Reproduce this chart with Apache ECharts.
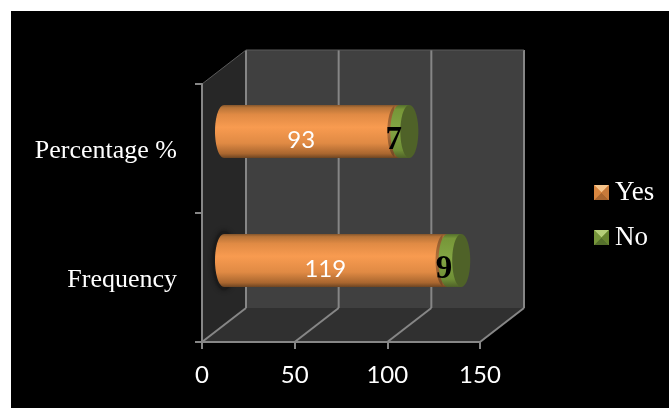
<!DOCTYPE html>
<html><head><meta charset="utf-8">
<style>html,body{margin:0;padding:0;background:#fff}#c{width:669px;height:408px}</style>
<script src="https://cdn.jsdelivr.net/npm/echarts@6/dist/echarts.min.js"></script>
</head><body><div id="c"></div>
<script>
const categories = ['Frequency', 'Percentage %'];
const yesValues = [119, 93];
const noValues = [9, 7];
const xTicks = [0, 50, 100, 150];
const seriesNames = ['Yes', 'No'];

const DX = 44, DY = -34;       // depth of the 3D box
const BX = 22, BY = -17;       // bars sit half way back
const RX = 9;
const GRID = '#868686';

function vgrad(stops) {
  return {type:'linear',x:0,y:0,x2:0,y2:1,colorStops:stops.map(s=>({offset:s[0],color:s[1]}))};
}
const orange = vgrad([[0,'#85562c'],[0.05,'#b87438'],[0.18,'#e08a44'],[0.42,'#f89b50'],[0.72,'#e08a44'],[0.92,'#a9662f'],[1,'#6e4522']]);
const orangeEdge = vgrad([[0,'#85562c'],[0.5,'#b4703a'],[1,'#6e4522']]);
const green = vgrad([[0,'#55702c'],[0.08,'#769638'],[0.45,'#83a544'],[0.85,'#6f8f36'],[1,'#4f6228']]);

function bev(c1,c2,c3,c4,c5){
  const svg = `<svg xmlns="http://www.w3.org/2000/svg" width="15" height="15"><rect width="15" height="15" fill="${c1}"/><polygon points="0,0 15,0 7.5,7.5" fill="${c2}"/><polygon points="0,15 15,15 7.5,7.5" fill="${c3}"/><polygon points="0,0 0,15 7.5,7.5" fill="${c4}"/><polygon points="15,0 15,15 7.5,7.5" fill="${c5}"/></svg>`;
  return 'image://data:image/svg+xml;charset=utf-8,' + encodeURIComponent(svg);
}

function renderBox(params, api) {
  const p00 = api.coord([0, 0]);
  const x0 = api.coord([0, 0])[0], x1 = api.coord([150, 0])[0];
  const band = api.size([0, 1])[1];
  const yb = p00[1] + band/2, yt = yb - 2*band;
  const ch = [];
  const line = (a,b,c,d,w,col)=>({type:'line',shape:{x1:a,y1:b,x2:c,y2:d},style:{stroke:col||GRID,lineWidth:w||1.5}});
  ch.push({type:'rect',shape:{x:x0+DX,y:yt+DY,width:x1-x0,height:yb-yt},style:{fill:'#404040'}});
  ch.push({type:'polygon',shape:{points:[[x0,yt],[x0+DX,yt+DY],[x0+DX,yb+DY],[x0,yb]]},style:{fill:'#272727'}});
  ch.push({type:'polygon',shape:{points:[[x0,yb],[x0+DX,yb+DY],[x1+DX,yb+DY],[x1,yb]]},style:{fill:'#303030'}});
  xTicks.forEach(t=>{
    const x = api.coord([t,0])[0];
    ch.push(line(x+DX,yt+DY,x+DX,yb+DY,2));
    ch.push(line(x,yb,x+DX,yb+DY,2));
  });
  ch.push(line(x0,yt,x0+DX,yt+DY,1,'#5a5a5a'));
  ch.push(line(x0+DX,yt+DY,x1+DX,yt+DY,1,'#5a5a5a'));
  return {type:'group',children:ch};
}

function renderYes(params, api) {
  const v = api.value(0), c = api.value(1);
  const a = api.coord([0,c]), b = api.coord([v,c]);
  const h = api.size([0,1])[1]*0.41, cy = a[1]+BY, ax = a[0]+BX, bx = b[0]+BX;
  const ry = h/2;
  const parts = [];
  if (params.dataIndex === 0) {
    parts.push({type:'ellipse',shape:{cx:ax,cy,rx:RX+2,ry:ry+3},style:{fill:'#1b1b1b',shadowBlur:5,shadowColor:'#111'}});
  }
  parts.push(
    {type:'ellipse',shape:{cx:ax,cy,rx:RX,ry},style:{fill:orange}},
    {type:'rect',shape:{x:ax,y:cy-ry,width:bx-ax,height:h},style:{fill:orange}},
    {type:'ellipse',shape:{cx:bx,cy,rx:RX,ry},style:{fill:orangeEdge}},
    {type:'rect',shape:{x:bx-2,y:cy-ry,width:5,height:h},style:{fill:orange}},
    {type:'text',x:api.coord([v/2,c])[0]+13,y:cy+9,style:{text:String(v),fill:'#fff',font:'24px Lato',align:'center',verticalAlign:'middle'}}
  );
  return {type:'group',children:parts};
}

function renderNo(params, api) {
  const v = api.value(0), s = api.value(1), c = api.value(2);
  const a = api.coord([s,c]), b = api.coord([s+v,c]);
  const h = api.size([0,1])[1]*0.41, cy = a[1]+BY, ax = a[0]+BX+3, bx = b[0]+BX;
  const ry = h/2;
  return {type:'group',children:[
    {type:'ellipse',shape:{cx:ax,cy,rx:RX,ry},style:{fill:green}},
    {type:'rect',shape:{x:ax,y:cy-ry,width:bx-ax,height:h},style:{fill:green}},
    {type:'ellipse',shape:{cx:bx,cy,rx:RX,ry},style:{fill:'#4f6228'}},
    {type:'text',x:api.coord([s+v/2,c])[0]+13,y:cy+9,style:{text:String(v),fill:'#000',font:'bold 33px "Liberation Serif"',align:'center',verticalAlign:'middle'}}
  ]};
}

const chart = echarts.init(document.getElementById('c'), null, {renderer:'canvas'});
chart.setOption({
  animation:false,
  backgroundColor:'#fff',
  graphic:[{type:'rect',z:-10,silent:true,shape:{x:11,y:11,width:658,height:397},style:{fill:'#000'}}],
  grid:{left:202,right:189,top:84,bottom:66,containLabel:false},
  legend:{
    left:589,top:174,orient:'vertical',itemWidth:15,itemHeight:15,itemGap:18,
    selectedMode:false,
    textStyle:{color:'#fff',fontFamily:'Liberation Serif',fontSize:27,padding:[5,0,0,1]},
    data:[
      {name:seriesNames[0],icon:bev('#e08a44','#f7c48a','#a9662f','#d9863f','#c77a3a')},
      {name:seriesNames[1],icon:bev('#7a9a3c','#b5cf78','#55702c','#76963a','#67852f')}
    ]
  },
  xAxis:{type:'value',min:0,max:150,interval:50,z:5,splitLine:{show:false},
    axisLine:{show:true,lineStyle:{color:GRID,width:2}},
    axisTick:{show:true,length:7,lineStyle:{color:GRID,width:2}},
    axisLabel:{color:'#fff',fontFamily:'Lato',fontSize:24,margin:21}},
  yAxis:{type:'category',data:categories,z:5,
    axisLine:{show:true,lineStyle:{color:GRID,width:2}},
    axisTick:{show:true,length:7,lineStyle:{color:GRID,width:2}},
    axisLabel:{color:'#fff',fontFamily:'Liberation Serif',fontSize:26,margin:25,verticalAlign:'top',lineHeight:6}},
  series:[
    {type:'custom',name:'box',silent:true,z:1,renderItem:renderBox,data:[[0]],clip:false,encode:{x:0}},
    {type:'custom',name:seriesNames[0],z:2,renderItem:renderYes,clip:false,color:'#e08a44',
      encode:{x:0,y:1},data:yesValues.map((v,i)=>[v,i])},
    {type:'custom',name:seriesNames[1],z:3,renderItem:renderNo,clip:false,color:'#7a9a3c',
      encode:{x:[0,1],y:2},data:noValues.map((v,i)=>[v,yesValues[i],i])}
  ]
});
</script></body></html>
